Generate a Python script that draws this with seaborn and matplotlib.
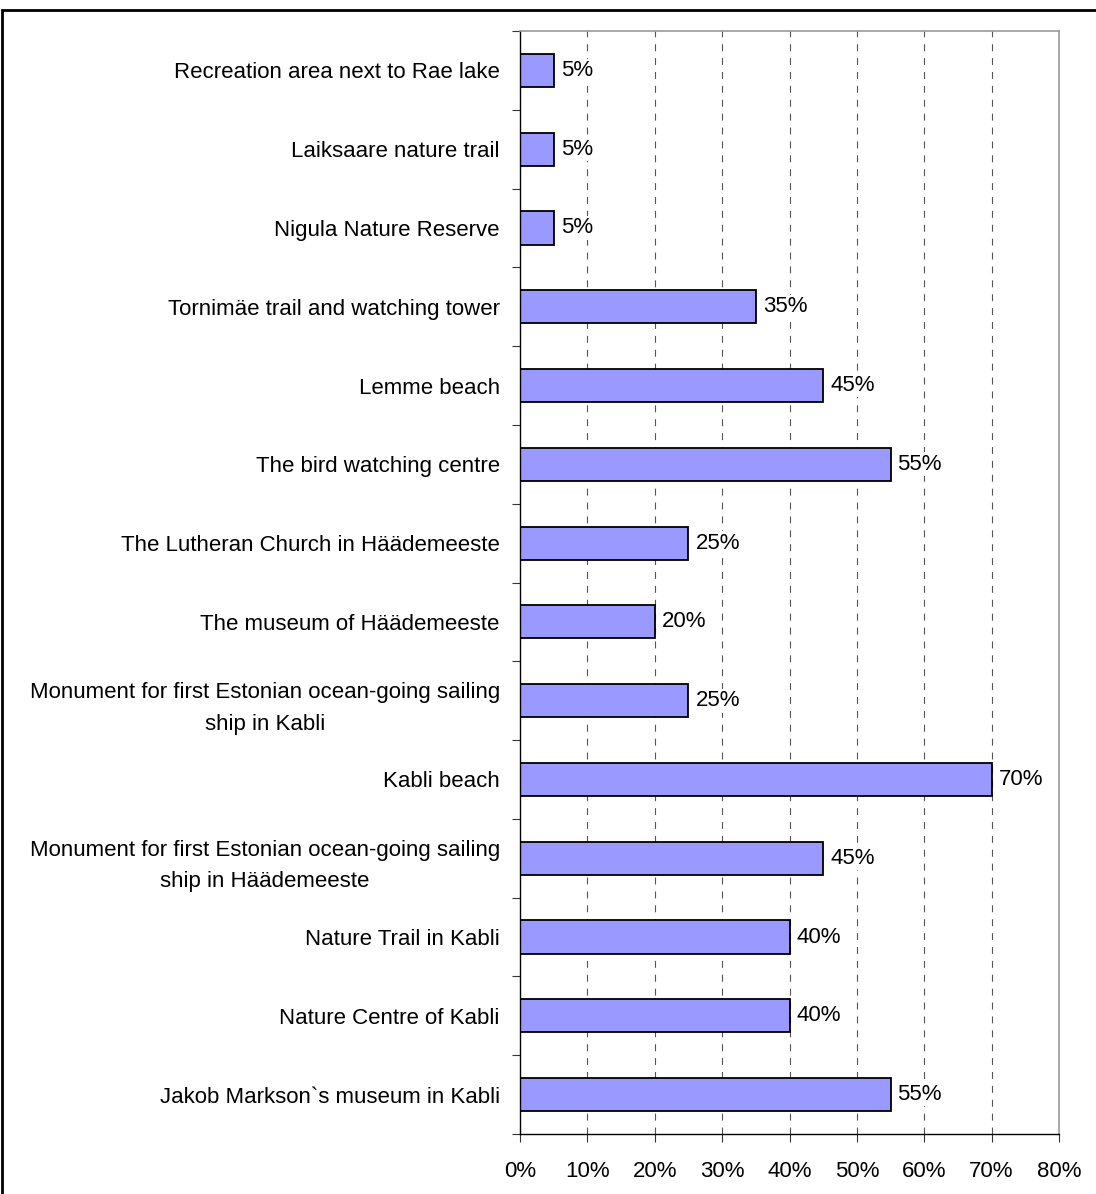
import numpy as np
import pandas as pd
import seaborn as sns
import matplotlib.pyplot as plt
from matplotlib.patches import Rectangle

sns.set_style("white")
plt.rcParams["font.family"] = ["Liberation Sans", "DejaVu Sans"]
plt.rcParams["lines.scale_dashes"] = False
plt.rcParams["text.color"] = "black"
plt.rcParams["xtick.color"] = "black"
plt.rcParams["ytick.color"] = "black"

attractions = [
    "Recreation area next to Rae lake",
    "Laiksaare nature trail",
    "Nigula Nature Reserve",
    "Tornimäe trail and watching tower",
    "Lemme beach",
    "The bird watching centre",
    "The Lutheran Church in Häädemeeste",
    "The museum of Häädemeeste",
    "Monument for first Estonian ocean-going sailing\nship in Kabli",
    "Kabli beach",
    "Monument for first Estonian ocean-going sailing\nship in Häädemeeste",
    "Nature Trail in Kabli",
    "Nature Centre of Kabli",
    "Jakob Markson`s museum in Kabli",
]
share = [5, 5, 5, 35, 45, 55, 25, 20, 25, 70, 45, 40, 40, 55]
x_ticks = [0, 10, 20, 30, 40, 50, 60, 70, 80]

FS = 16

df = pd.DataFrame({"attraction": attractions, "share": share})

fig = plt.figure(figsize=(10.96, 11.94), dpi=100)
ax = fig.add_axes([520 / 1096, 1 - 1134 / 1194, (1059 - 520) / 1096, (1134 - 31) / 1194])

sns.barplot(data=df, y="attraction", x="share", orient="h",
    color="#9999FF", saturation=1, edgecolor="black", linewidth=1.3,
    width=0.42, ax=ax)

labels = ax.bar_label(ax.containers[0], labels=[f"{v}%" for v in share],
    padding=5, fontsize=FS, color="black")
for t in labels:
    t.set_bbox(dict(facecolor="white", edgecolor="none", pad=1))

n = len(attractions)
ax.set_xlim(0, 80)
ax.set_ylim(n - 0.5, -0.5)
ax.set_xticks(x_ticks)
ax.set_xticklabels([f"{t}%" for t in x_ticks], fontsize=FS)
ax.set_xlabel("")
ax.set_ylabel("")

# dashed verticals
for t in x_ticks[1:-1]:
    ax.axvline(t, color="#555555", lw=0.8, ls=(0, (5, 5)), zorder=0)

# ticks on category boundaries
ax.set_yticks(np.arange(-0.5, n, 1), minor=True)
ax.tick_params(axis="y", which="both", left=True)
ax.tick_params(axis="y", which="major", length=0, pad=14.5, labelsize=FS)
ax.tick_params(axis="y", which="minor", length=5.5, width=0.8, color="#333333", direction="out")
ax.tick_params(axis="x", which="major", bottom=True, length=5.5, width=0.8, color="#333333",
    direction="out", pad=14)
for lab in ax.get_yticklabels():
    lab.set_multialignment("center")
    lab.set_linespacing(1.65)

for side in ["left", "bottom"]:
    ax.spines[side].set_color("black")
    ax.spines[side].set_linewidth(1.0)
for side in ["top", "right"]:
    ax.spines[side].set_color("#999999")
    ax.spines[side].set_linewidth(1.2)

# outer chart border
fig.patches.append(Rectangle((2 / 1096, -0.05), 1.1, 1 - 10 / 1194 + 0.05,
    transform=fig.transFigure, fill=False, edgecolor="black", linewidth=2))

fig.savefig("out.png", dpi=100)
